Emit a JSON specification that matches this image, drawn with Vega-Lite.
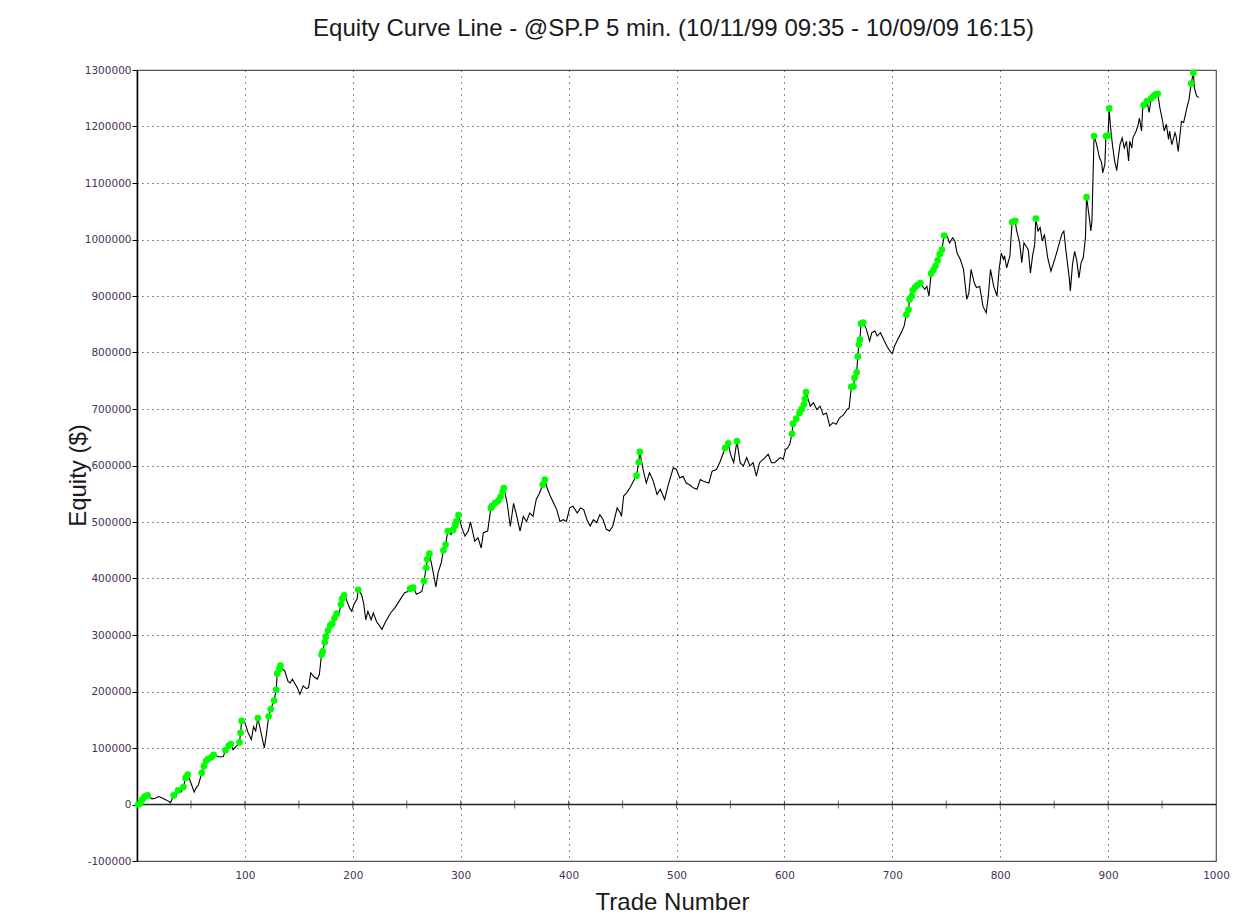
{
  "$schema": "https://vega.github.io/schema/vega-lite/v6.json",
  "width": 1079,
  "height": 791,
  "autosize": "none",
  "padding": {"left": 137, "top": 70, "right": 41, "bottom": 59},
  "background": "white",
  "config": {
    "view": {"stroke": "#555", "strokeWidth": 1.2},
    "font": "Liberation Sans"
  },
  "title": {
    "text": "Equity Curve Line - @SP.P 5 min. (10/11/99 09:35 - 10/09/09 16:15)",
    "fontSize": 24,
    "font": "Liberation Sans",
    "fontWeight": "normal",
    "color": "#1a1a1a",
    "anchor": "middle",
    "baseline": "alphabetic",
    "offset": 5,
    "dx": -3
  },
  "datasets": {
    "equity": [
      {"t":1,"e":0,"h":1},{"t":3,"e":2000,"h":1},{"t":5,"e":9000,"h":1},{"t":7,"e":14000,"h":1},{"t":10,"e":16000,"h":1},
      {"t":14,"e":10000,"h":0},{"t":17,"e":11000,"h":0},{"t":20,"e":14000,"h":0},{"t":23,"e":12000,"h":0},{"t":26,"e":9000,"h":0},
      {"t":29,"e":6000,"h":0},{"t":31,"e":3000,"h":0},{"t":34,"e":16000,"h":1},{"t":36,"e":14000,"h":0},{"t":38,"e":25000,"h":1},
      {"t":41,"e":22000,"h":0},{"t":43,"e":31000,"h":1},{"t":45,"e":47000,"h":1},{"t":47,"e":53000,"h":1},{"t":50,"e":38000,"h":0},
      {"t":53,"e":22000,"h":0},{"t":55,"e":30000,"h":0},{"t":57,"e":35000,"h":0},{"t":60,"e":56000,"h":1},{"t":62,"e":68000,"h":1},
      {"t":64,"e":77000,"h":1},{"t":66,"e":81000,"h":1},{"t":69,"e":84000,"h":1},{"t":71,"e":88000,"h":1},{"t":74,"e":86000,"h":0},
      {"t":77,"e":84000,"h":0},{"t":80,"e":85000,"h":0},{"t":82,"e":96000,"h":1},{"t":85,"e":104000,"h":1},{"t":87,"e":107000,"h":1},
      {"t":89,"e":97000,"h":0},{"t":92,"e":103000,"h":0},{"t":95,"e":110000,"h":1},{"t":96,"e":127000,"h":1},{"t":97,"e":148000,"h":1},
      {"t":100,"e":145000,"h":0},{"t":103,"e":127000,"h":0},{"t":106,"e":115000,"h":0},{"t":108,"e":138000,"h":0},{"t":110,"e":130000,"h":0},
      {"t":112,"e":153000,"h":1},{"t":115,"e":127000,"h":0},{"t":118,"e":100000,"h":0},{"t":120,"e":125000,"h":0},{"t":122,"e":156000,"h":1},
      {"t":124,"e":169000,"h":1},{"t":127,"e":184000,"h":1},{"t":129,"e":203000,"h":1},{"t":130,"e":232000,"h":1},{"t":132,"e":240000,"h":1},
      {"t":133,"e":246000,"h":1},{"t":135,"e":240000,"h":0},{"t":137,"e":236000,"h":0},{"t":140,"e":218000,"h":0},{"t":142,"e":215000,"h":0},
      {"t":144,"e":222000,"h":0},{"t":147,"e":212000,"h":0},{"t":149,"e":205000,"h":0},{"t":151,"e":195000,"h":0},{"t":154,"e":210000,"h":0},
      {"t":157,"e":205000,"h":0},{"t":159,"e":207000,"h":0},{"t":161,"e":233000,"h":0},{"t":164,"e":226000,"h":0},{"t":167,"e":222000,"h":0},
      {"t":169,"e":230000,"h":0},{"t":171,"e":265000,"h":1},{"t":172,"e":271000,"h":1},{"t":174,"e":287000,"h":1},{"t":175,"e":297000,"h":1},
      {"t":177,"e":308000,"h":1},{"t":179,"e":317000,"h":1},{"t":181,"e":320000,"h":1},{"t":183,"e":330000,"h":1},{"t":185,"e":338000,"h":1},
      {"t":187,"e":335000,"h":0},{"t":189,"e":354000,"h":1},{"t":190,"e":364000,"h":1},{"t":192,"e":370000,"h":1},{"t":194,"e":363000,"h":0},
      {"t":197,"e":348000,"h":0},{"t":199,"e":342000,"h":0},{"t":201,"e":354000,"h":0},{"t":204,"e":364000,"h":0},{"t":205,"e":380000,"h":1},
      {"t":208,"e":372000,"h":0},{"t":210,"e":357000,"h":0},{"t":212,"e":327000,"h":0},{"t":214,"e":342000,"h":0},{"t":217,"e":327000,"h":0},
      {"t":219,"e":339000,"h":0},{"t":222,"e":324000,"h":0},{"t":227,"e":310000,"h":0},{"t":230,"e":322000,"h":0},{"t":235,"e":339000,"h":0},
      {"t":239,"e":348000,"h":0},{"t":244,"e":363000,"h":0},{"t":248,"e":375000,"h":0},{"t":251,"e":377000,"h":0},{"t":253,"e":382000,"h":1},
      {"t":256,"e":384000,"h":1},{"t":259,"e":372000,"h":0},{"t":264,"e":377000,"h":0},{"t":266,"e":396000,"h":1},{"t":268,"e":419000,"h":1},
      {"t":269,"e":434000,"h":1},{"t":271,"e":444000,"h":1},{"t":274,"e":416000,"h":0},{"t":277,"e":385000,"h":0},{"t":279,"e":410000,"h":0},
      {"t":282,"e":428000,"h":0},{"t":284,"e":450000,"h":1},{"t":286,"e":460000,"h":1},{"t":288,"e":484000,"h":1},{"t":291,"e":478000,"h":0},
      {"t":293,"e":486000,"h":1},{"t":295,"e":494000,"h":1},{"t":296,"e":501000,"h":1},{"t":298,"e":512000,"h":1},{"t":301,"e":490000,"h":0},
      {"t":304,"e":475000,"h":0},{"t":307,"e":484000,"h":0},{"t":309,"e":500000,"h":0},{"t":311,"e":484000,"h":0},{"t":313,"e":466000,"h":0},
      {"t":316,"e":472000,"h":0},{"t":319,"e":454000,"h":0},{"t":321,"e":481000,"h":0},{"t":325,"e":484000,"h":0},{"t":328,"e":525000,"h":1},
      {"t":329,"e":528000,"h":1},{"t":332,"e":534000,"h":1},{"t":335,"e":538000,"h":1},{"t":337,"e":545000,"h":1},{"t":339,"e":554000,"h":1},
      {"t":340,"e":560000,"h":1},{"t":343,"e":534000,"h":0},{"t":346,"e":492000,"h":0},{"t":349,"e":533000,"h":0},{"t":352,"e":510000,"h":0},
      {"t":355,"e":484000,"h":0},{"t":358,"e":510000,"h":0},{"t":361,"e":501000,"h":0},{"t":364,"e":516000,"h":0},{"t":367,"e":510000,"h":0},
      {"t":370,"e":540000,"h":0},{"t":373,"e":551000,"h":0},{"t":376,"e":566000,"h":1},{"t":378,"e":575000,"h":1},{"t":380,"e":561000,"h":0},
      {"t":383,"e":546000,"h":0},{"t":386,"e":534000,"h":0},{"t":389,"e":522000,"h":0},{"t":392,"e":501000,"h":0},{"t":395,"e":504000,"h":0},
      {"t":398,"e":501000,"h":0},{"t":401,"e":525000,"h":0},{"t":404,"e":528000,"h":0},{"t":408,"e":516000,"h":0},{"t":411,"e":525000,"h":0},
      {"t":414,"e":522000,"h":0},{"t":417,"e":504000,"h":0},{"t":420,"e":493000,"h":0},{"t":423,"e":504000,"h":0},{"t":426,"e":499000,"h":0},
      {"t":429,"e":513000,"h":0},{"t":432,"e":504000,"h":0},{"t":435,"e":487000,"h":0},{"t":438,"e":484000,"h":0},{"t":441,"e":493000,"h":0},
      {"t":445,"e":525000,"h":0},{"t":448,"e":516000,"h":0},{"t":449,"e":510000,"h":0},{"t":451,"e":546000,"h":0},{"t":454,"e":552000,"h":0},
      {"t":457,"e":561000,"h":0},{"t":460,"e":572000,"h":0},{"t":463,"e":582000,"h":1},{"t":465,"e":606000,"h":1},{"t":466,"e":624000,"h":1},
      {"t":469,"e":593000,"h":0},{"t":472,"e":569000,"h":0},{"t":475,"e":587000,"h":0},{"t":478,"e":575000,"h":0},{"t":482,"e":549000,"h":0},
      {"t":485,"e":558000,"h":0},{"t":489,"e":540000,"h":0},{"t":492,"e":563000,"h":0},{"t":497,"e":596000,"h":0},{"t":500,"e":593000,"h":0},
      {"t":503,"e":578000,"h":0},{"t":506,"e":581000,"h":0},{"t":509,"e":569000,"h":0},{"t":512,"e":566000,"h":0},{"t":516,"e":560000,"h":0},
      {"t":519,"e":558000,"h":0},{"t":522,"e":575000,"h":0},{"t":525,"e":572000,"h":0},{"t":530,"e":569000,"h":0},{"t":533,"e":590000,"h":0},
      {"t":537,"e":593000,"h":0},{"t":540,"e":605000,"h":0},{"t":543,"e":620000,"h":0},{"t":545,"e":631000,"h":1},{"t":548,"e":639000,"h":1},
      {"t":550,"e":620000,"h":0},{"t":553,"e":605000,"h":0},{"t":556,"e":643000,"h":1},{"t":559,"e":605000,"h":0},{"t":562,"e":599000,"h":0},
      {"t":565,"e":614000,"h":0},{"t":568,"e":599000,"h":0},{"t":571,"e":605000,"h":0},{"t":574,"e":581000,"h":0},{"t":577,"e":605000,"h":0},
      {"t":582,"e":614000,"h":0},{"t":585,"e":620000,"h":0},{"t":588,"e":605000,"h":0},{"t":591,"e":605000,"h":0},{"t":596,"e":614000,"h":0},
      {"t":599,"e":611000,"h":0},{"t":601,"e":628000,"h":0},{"t":603,"e":631000,"h":0},{"t":605,"e":638000,"h":0},{"t":607,"e":656000,"h":1},
      {"t":608,"e":674000,"h":1},{"t":611,"e":683000,"h":1},{"t":614,"e":693000,"h":1},{"t":616,"e":700000,"h":1},{"t":618,"e":708000,"h":1},
      {"t":619,"e":718000,"h":1},{"t":620,"e":730000,"h":1},{"t":624,"e":705000,"h":0},{"t":627,"e":711000,"h":0},{"t":630,"e":699000,"h":0},
      {"t":633,"e":705000,"h":0},{"t":636,"e":690000,"h":0},{"t":639,"e":693000,"h":0},{"t":642,"e":670000,"h":0},{"t":645,"e":676000,"h":0},
      {"t":648,"e":673000,"h":0},{"t":651,"e":684000,"h":0},{"t":655,"e":690000,"h":0},{"t":658,"e":699000,"h":0},{"t":660,"e":702000,"h":0},
      {"t":662,"e":739000,"h":1},{"t":664,"e":740000,"h":1},{"t":665,"e":755000,"h":1},{"t":667,"e":765000,"h":1},{"t":668,"e":793000,"h":1},
      {"t":669,"e":814000,"h":1},{"t":670,"e":823000,"h":1},{"t":671,"e":851000,"h":1},{"t":673,"e":853000,"h":1},{"t":676,"e":841000,"h":0},
      {"t":679,"e":820000,"h":0},{"t":681,"e":835000,"h":0},{"t":684,"e":838000,"h":0},{"t":686,"e":829000,"h":0},{"t":689,"e":835000,"h":0},
      {"t":692,"e":823000,"h":0},{"t":695,"e":811000,"h":0},{"t":698,"e":802000,"h":0},{"t":700,"e":798000,"h":0},{"t":702,"e":811000,"h":0},
      {"t":705,"e":823000,"h":0},{"t":709,"e":838000,"h":0},{"t":711,"e":847000,"h":0},{"t":713,"e":867000,"h":1},{"t":715,"e":876000,"h":1},
      {"t":716,"e":894000,"h":1},{"t":718,"e":900000,"h":1},{"t":719,"e":910000,"h":1},{"t":721,"e":915000,"h":1},{"t":723,"e":919000,"h":1},
      {"t":726,"e":923000,"h":1},{"t":730,"e":912000,"h":0},{"t":732,"e":917000,"h":0},{"t":734,"e":900000,"h":0},{"t":736,"e":940000,"h":1},
      {"t":738,"e":946000,"h":1},{"t":740,"e":953000,"h":1},{"t":742,"e":963000,"h":1},{"t":744,"e":974000,"h":1},{"t":746,"e":982000,"h":1},
      {"t":748,"e":1007000,"h":1},{"t":751,"e":1005000,"h":0},{"t":753,"e":994000,"h":0},{"t":756,"e":1003000,"h":0},{"t":758,"e":997000,"h":0},
      {"t":760,"e":976000,"h":0},{"t":763,"e":965000,"h":0},{"t":766,"e":947000,"h":0},{"t":769,"e":894000,"h":0},{"t":771,"e":906000,"h":0},
      {"t":773,"e":947000,"h":0},{"t":776,"e":923000,"h":0},{"t":778,"e":915000,"h":0},{"t":781,"e":917000,"h":0},{"t":784,"e":882000,"h":0},
      {"t":787,"e":870000,"h":0},{"t":789,"e":900000,"h":0},{"t":791,"e":947000,"h":0},{"t":794,"e":917000,"h":0},{"t":797,"e":900000,"h":0},
      {"t":799,"e":947000,"h":0},{"t":801,"e":976000,"h":0},{"t":803,"e":965000,"h":0},{"t":804,"e":971000,"h":0},{"t":806,"e":950000,"h":0},
      {"t":809,"e":971000,"h":0},{"t":811,"e":1031000,"h":1},{"t":814,"e":1033000,"h":1},{"t":815,"e":1018000,"h":0},{"t":818,"e":994000,"h":0},
      {"t":820,"e":959000,"h":0},{"t":822,"e":994000,"h":0},{"t":824,"e":988000,"h":0},{"t":826,"e":982000,"h":0},{"t":828,"e":941000,"h":0},
      {"t":830,"e":971000,"h":0},{"t":832,"e":991000,"h":0},{"t":833,"e":1037000,"h":1},{"t":835,"e":1015000,"h":0},{"t":837,"e":1021000,"h":0},
      {"t":839,"e":997000,"h":0},{"t":841,"e":1009000,"h":0},{"t":844,"e":968000,"h":0},{"t":847,"e":944000,"h":0},{"t":851,"e":968000,"h":0},
      {"t":854,"e":988000,"h":0},{"t":857,"e":1009000,"h":0},{"t":859,"e":1015000,"h":0},{"t":861,"e":979000,"h":0},{"t":864,"e":932000,"h":0},
      {"t":865,"e":909000,"h":0},{"t":867,"e":956000,"h":0},{"t":869,"e":979000,"h":0},{"t":871,"e":962000,"h":0},{"t":873,"e":932000,"h":0},
      {"t":875,"e":959000,"h":0},{"t":877,"e":968000,"h":0},{"t":879,"e":1003000,"h":0},{"t":880,"e":1075000,"h":1},{"t":881,"e":1062000,"h":0},
      {"t":883,"e":1032000,"h":0},{"t":884,"e":1015000,"h":0},{"t":885,"e":1032000,"h":0},{"t":887,"e":1183000,"h":1},{"t":889,"e":1171000,"h":0},
      {"t":892,"e":1145000,"h":0},{"t":894,"e":1136000,"h":0},{"t":895,"e":1118000,"h":0},{"t":897,"e":1133000,"h":0},{"t":898,"e":1183000,"h":1},
      {"t":900,"e":1184000,"h":1},{"t":901,"e":1232000,"h":1},{"t":902,"e":1204000,"h":0},{"t":904,"e":1168000,"h":0},{"t":906,"e":1139000,"h":0},
      {"t":908,"e":1122000,"h":0},{"t":909,"e":1139000,"h":0},{"t":911,"e":1168000,"h":0},{"t":913,"e":1180000,"h":0},{"t":915,"e":1162000,"h":0},
      {"t":917,"e":1174000,"h":0},{"t":919,"e":1139000,"h":0},{"t":920,"e":1174000,"h":0},{"t":922,"e":1162000,"h":0},{"t":923,"e":1180000,"h":0},
      {"t":926,"e":1192000,"h":0},{"t":928,"e":1204000,"h":0},{"t":929,"e":1215000,"h":0},{"t":931,"e":1192000,"h":0},{"t":932,"e":1230000,"h":0},
      {"t":933,"e":1238000,"h":1},{"t":936,"e":1245000,"h":1},{"t":938,"e":1225000,"h":0},{"t":940,"e":1250000,"h":1},{"t":942,"e":1254000,"h":1},
      {"t":944,"e":1257000,"h":1},{"t":946,"e":1258000,"h":1},{"t":948,"e":1233000,"h":0},{"t":950,"e":1215000,"h":0},{"t":952,"e":1192000,"h":0},
      {"t":954,"e":1204000,"h":0},{"t":956,"e":1177000,"h":0},{"t":957,"e":1192000,"h":0},{"t":959,"e":1168000,"h":0},{"t":960,"e":1174000,"h":0},
      {"t":962,"e":1189000,"h":0},{"t":963,"e":1183000,"h":0},{"t":965,"e":1156000,"h":0},{"t":967,"e":1192000,"h":0},{"t":968,"e":1209000,"h":0},
      {"t":970,"e":1207000,"h":0},{"t":973,"e":1233000,"h":0},{"t":975,"e":1248000,"h":0},{"t":977,"e":1276000,"h":1},{"t":979,"e":1295000,"h":1},
      {"t":980,"e":1268000,"h":0},{"t":982,"e":1254000,"h":0},{"t":984,"e":1251000,"h":0}
    ],
    "zeroline": [{"e": 0}],
    "minorticks": [
      {"t":50,"e":0},{"t":100,"e":0},{"t":150,"e":0},{"t":200,"e":0},{"t":250,"e":0},{"t":300,"e":0},{"t":350,"e":0},{"t":400,"e":0},{"t":450,"e":0},{"t":500,"e":0},
      {"t":550,"e":0},{"t":600,"e":0},{"t":650,"e":0},{"t":700,"e":0},{"t":750,"e":0},{"t":800,"e":0},{"t":850,"e":0},{"t":900,"e":0},{"t":950,"e":0}
    ]
  },
  "layer": [
    {
      "data": {"name": "equity"},
      "mark": {"type": "line", "color": "#000", "strokeWidth": 1.1, "interpolate": "linear"},
      "encoding": {
        "x": {
          "field": "t", "type": "quantitative",
          "scale": {"domain": [0, 1000], "nice": false, "zero": false},
          "axis": {
            "title": "Trade Number",
            "titleFont": "Liberation Sans", "titleFontSize": 24, "titleFontWeight": "normal", "titleColor": "#1a1a1a",
            "titleX": 535, "titleY": 41, "titleBaseline": "middle", "titleAnchor": "start", "titleAlign": "center",
            "values": [100, 200, 300, 400, 500, 600, 700, 800, 900, 1000],
            "format": "d",
            "labelFont": "DejaVu Sans", "labelFontSize": 10.5, "labelColor": "#4a2f57",
            "labelPadding": 9, "labelFlush": false, "labelOverlap": false,
            "ticks": false, "domain": false,
            "grid": true, "gridColor": "#000", "gridDash": [1, 5], "gridWidth": 1,
            "gridOpacity": {"condition": {"test": "datum.value >= 1000", "value": 0}, "value": 0.9}
          }
        },
        "y": {
          "field": "e", "type": "quantitative",
          "scale": {"domain": [-100000, 1300000], "nice": false, "zero": false},
          "axis": {
            "title": "Equity ($)",
            "titleFont": "Liberation Sans", "titleFontSize": 24, "titleFontWeight": "normal", "titleColor": "#1a1a1a",
            "titleX": -59, "titleY": 405, "titleAngle": -90, "titleAlign": "center", "titleBaseline": "middle", "titleAnchor": "start",
            "values": [-100000, -50000, 0, 50000, 100000, 150000, 200000, 250000, 300000, 350000, 400000, 450000, 500000, 550000, 600000, 650000, 700000, 750000, 800000, 850000, 900000, 950000, 1000000, 1050000, 1100000, 1150000, 1200000, 1250000, 1300000],
            "labelExpr": "datum.value % 100000 != 0 ? '' : (datum.value < 0 ? '-' + format(-datum.value, 'd') : format(datum.value, 'd'))",
            "labelFont": "DejaVu Sans", "labelFontSize": 10.5, "labelColor": "#4a2f57",
            "labelPadding": 1, "labelFlush": false, "labelOverlap": false,
            "ticks": true, "tickSize": 5, "tickColor": "#000", "tickWidth": 1,
            "domain": true, "domainColor": "#000", "domainWidth": 1.5,
            "grid": true, "gridColor": "#000", "gridDash": [1, 4], "gridWidth": 1,
            "gridOpacity": {"condition": {"test": "datum.value % 100000 != 0 || datum.value <= 0 || datum.value >= 1300000", "value": 0}, "value": 0.9}
          }
        }
      }
    },
    {
      "data": {"name": "zeroline"},
      "mark": {"type": "rule", "color": "#222", "strokeWidth": 1.5},
      "encoding": {
        "y": {"field": "e", "type": "quantitative"}
      }
    },
    {
      "data": {"name": "minorticks"},
      "mark": {"type": "tick", "orient": "vertical", "size": 8, "thickness": 1, "color": "#222"},
      "encoding": {
        "x": {"field": "t", "type": "quantitative"},
        "y": {"field": "e", "type": "quantitative"}
      }
    },
    {
      "data": {"name": "equity"},
      "transform": [{"filter": "datum.h == 1"}],
      "mark": {"type": "circle", "color": "#00ff00", "size": 45, "opacity": 1},
      "encoding": {
        "x": {"field": "t", "type": "quantitative"},
        "y": {"field": "e", "type": "quantitative"}
      }
    }
  ]
}
